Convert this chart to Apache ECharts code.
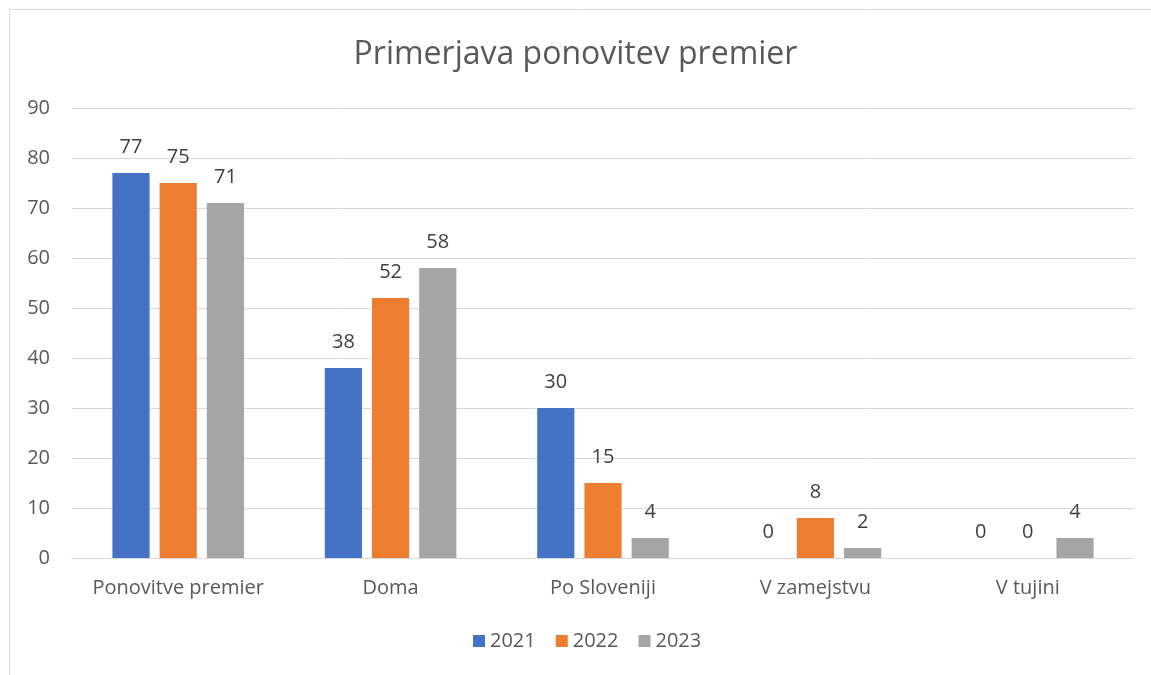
<!DOCTYPE html>
<html>
<head>
<meta charset="utf-8">
<script src="https://cdn.jsdelivr.net/npm/echarts@6/dist/echarts.min.js"></script>
<style>
  html, body { margin: 0; padding: 0; background: #fff; }
  #chart { width: 1151px; height: 675px; }
</style>
</head>
<body>
<div id="chart"></div>
<script>
const categories = ['Ponovitve premier', 'Doma', 'Po Sloveniji', 'V zamejstvu', 'V tujini'];
const seriesNames = ['2021', '2022', '2023'];
const values2021 = [77, 38, 30, 0, 0];
const values2022 = [75, 52, 15, 8, 0];
const values2023 = [71, 58, 4, 2, 4];
const colors = ['#4472C4', '#ED7D31', '#A5A5A5'];

const font = '"Open Sans", "Noto Sans", sans-serif';
const allValues = [values2021, values2022, values2023];

var myChart = echarts.init(document.getElementById('chart'));

const option = {
  textStyle: { fontFamily: font },
  title: {
    text: 'Primerjava ponovitev premier',
    left: 'center',
    top: 34,
    textStyle: { color: '#595959', fontSize: 32, fontWeight: 'normal', fontFamily: font }
  },
  graphic: [{
    type: 'rect',
    shape: { x: 9.5, y: 9.5, width: 1160, height: 700 },
    style: { fill: 'none', stroke: '#d9d9d9', lineWidth: 1 },
    silent: true
  }],
  legend: {
    bottom: 19,
    left: 468,
    itemWidth: 12,
    itemHeight: 12,
    itemGap: 20,
    icon: 'rect',
    textStyle: { color: '#595959', fontSize: 20, fontFamily: font },
    data: seriesNames
  },
  grid: {
    left: 72,
    right: 17,
    top: 108,
    bottom: 117
  },
  xAxis: {
    type: 'category',
    data: categories,
    axisTick: { show: false },
    axisLine: { lineStyle: { color: '#d9d9d9' } },
    axisLabel: { color: '#595959', fontSize: 20, margin: 20, interval: 0, fontFamily: font }
  },
  yAxis: {
    type: 'value',
    min: 0,
    max: 90,
    interval: 10,
    axisLabel: { color: '#595959', fontSize: 20, margin: 22, fontFamily: font },
    splitLine: { lineStyle: { color: '#d9d9d9' } }
  },
  series: seriesNames.map((name, i) => ({
    name: name,
    type: 'bar',
    data: allValues[i],
    barWidth: '17.5%',
    barGap: '27%',
    itemStyle: { color: colors[i] },
    label: {
      show: true,
      position: 'top',
      distance: 16,
      color: '#404040',
      fontSize: 20,
      fontFamily: font
    }
  }))
};

myChart.setOption(option);
</script>
</body>
</html>
